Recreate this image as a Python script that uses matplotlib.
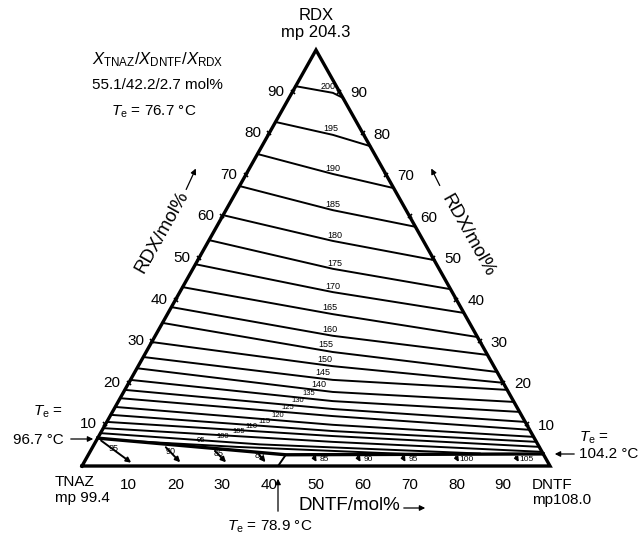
import numpy as np
import matplotlib.pyplot as plt

plt.rcParams['font.family'] = ['Liberation Sans', 'DejaVu Sans']
plt.rcParams['mathtext.fontset'] = 'custom'
plt.rcParams['mathtext.rm'] = 'Liberation Sans'
plt.rcParams['mathtext.it'] = 'Liberation Sans:italic'

W, H = 641, 538

iso_T = [200, 195, 190, 185, 180, 175, 170, 165, 160, 155, 150, 145, 140, 135, 130, 125, 120, 115, 110, 105]
iso_left = [91.3, 82.7, 75.0, 67.3, 60.3, 54.3, 48.5, 43.0, 38.2, 34.4, 29.8, 26.2, 23.5, 20.7, 18.3, 16.3, 14.2, 12.3, 10.6, 9.1]
iso_mid = [89.7, 79.6, 70.2, 61.5, 54.1, 47.4, 41.8, 36.5, 31.3, 27.4, 24.0, 20.7, 17.8, 15.6, 13.7, 12.0, 9.9, 8.4, 7.2, 5.8]
iso_right = [88.5, 76.9, 66.8, 57.5, 49.5, 42.5, 36.8, 31.0, 26.7, 22.6, 20.0, 18.3, 15.4, 13.0, 10.6, 8.7, 7.0, 5.8, 4.6, 3.4]
iso_lab_x = [52.6, 53.2, 53.6, 53.6, 54.1, 54.1, 53.6, 53.0, 53.0, 52.1, 51.9, 51.5, 50.6, 48.4, 46.2, 44.0, 41.8, 39.0, 36.2, 33.4]
x_mid = 53.6

# Isotermas bajas del campo RDX que terminan en los valles (x, RDX)
low_T = [100, 95]
low_x = [[3.95, 38.0, 85.0], [12.0, 33.0, 70.0]]
low_r = [[7.9, 5.2, 3.0], [5.9, 4.6, 2.85]]
low_lab_x = [30.0, 25.5]

# Valles eutécticos (x, RDX)
valley_x = [3.35, 43.55, 98.55]
valley_r = [6.7, 2.7, 2.9]
binary_x = [41.9, 43.55]
binary_r = [0.0, 2.7]

# Campo TNAZ: isotermas desde el valle hasta el lado TNAZ-DNTF
tnaz_T = [95, 90, 85, 80]
tnaz_x0 = [3.6, 17.5, 28.0, 37.5]
tnaz_r0 = [6.5, 5.0, 4.1, 3.2]
tnaz_x1 = [11.0, 21.4, 31.2, 39.6]

# Campo DNTF: isotermas desde el valle hasta el lado TNAZ-DNTF
dntf_T = [85, 90, 95, 100, 105]
dntf_x1 = [50.4, 59.8, 69.4, 80.8, 93.6]

ticks = [10, 20, 30, 40, 50, 60, 70, 80, 90]


def px(x, y):
    return (x / W, 1 - y / H)


fig = plt.figure(figsize=(W / 100, H / 100), dpi=100)
ax = fig.add_axes([82 / W, 72 / H, 468 / W, 416 / H])
ax.set_xlim(0, 100)
ax.set_ylim(0, 100)
ax.axis('off')

# Triángulo
ax.plot([0, 100, 50, 0], [0, 0, 100, 0], color='k', lw=2.4, solid_joinstyle='miter', clip_on=False)

# Isotermas RDX
for i, T in enumerate(iso_T):
    rl, rm, rr = iso_left[i], iso_mid[i], iso_right[i]
    xs = [rl / 2, x_mid, 100 - rr / 2]
    ys = [rl, rm, rr]
    ax.plot(xs, ys, color='k', lw=1.4)
    lx = iso_lab_x[i]
    ly = np.interp(lx, xs, ys)
    fs = 6.5 if T >= 140 else 5.5
    ax.annotate(str(T), (lx, ly), xytext=(0, 1.0), textcoords='offset points',
                ha='center', va='bottom', fontsize=fs)

for i, T in enumerate(low_T):
    ax.plot(low_x[i], low_r[i], color='k', lw=1.4)
    ly = np.interp(low_lab_x[i], low_x[i], low_r[i])
    ax.annotate(str(T), (low_lab_x[i], ly), xytext=(0, 1), textcoords='offset points',
                ha='center', va='bottom', fontsize=5.5)

# Valles
ax.plot(valley_x, valley_r, color='k', lw=2.4)
ax.plot(binary_x, binary_r, color='k', lw=1.4)

# Campo TNAZ
for i, T in enumerate(tnaz_T):
    ax.annotate('', xy=(tnaz_x1[i], 0.4), xytext=(tnaz_x0[i], tnaz_r0[i]),
                arrowprops=dict(arrowstyle='-|>', lw=1.4, color='k', mutation_scale=7))
    ax.text((tnaz_x0[i] + tnaz_x1[i]) / 2 - 0.5, (tnaz_r0[i]) / 2 + 1.0, str(T),
            fontsize=6.5, ha='center', va='center')

# Campo DNTF
for i, T in enumerate(dntf_T):
    ax.annotate('', xy=(dntf_x1[i], 0.4), xytext=(dntf_x1[i] - 1.2, 2.8),
                arrowprops=dict(arrowstyle='-|>', lw=1.2, color='k', mutation_scale=6))
    ax.text(dntf_x1[i] + 1.3, 1.6, str(T), fontsize=6, ha='center', va='center')

# Marcas en los lados
tk = np.array(ticks, dtype=float)
ax.plot(tk / 2, tk, 'x', color='k', ms=3.5, mew=1.2, clip_on=False)
ax.plot(100 - tk / 2, tk, 'x', color='k', ms=3.5, mew=1.2, clip_on=False)

# Etiquetas de los lados
for t in ticks:
    ax.annotate(str(t), (t / 2, t), xytext=(-12, 0), textcoords='offset points',
                ha='center', va='center', fontsize=11)
    ax.annotate(str(t), (100 - t / 2, t), xytext=(14, -1), textcoords='offset points',
                ha='center', va='center', fontsize=11)
    ax.annotate(str(t), (t, 0), xytext=(0, -14), textcoords='offset points',
                ha='center', va='center', fontsize=11)

# Textos
fig.text(*px(316, 16), 'RDX', ha='center', va='center', fontsize=12)
fig.text(*px(316, 33), 'mp 204.3', ha='center', va='center', fontsize=12)
fig.text(*px(55, 482), 'TNAZ', ha='left', va='center', fontsize=11)
fig.text(*px(55, 498), 'mp 99.4', ha='left', va='center', fontsize=11)
fig.text(*px(532, 485), 'DNTF', ha='left', va='center', fontsize=11)
fig.text(*px(532, 500), 'mp108.0', ha='left', va='center', fontsize=11)

fig.text(*px(158, 60), r'$X_{\mathrm{TNAZ}}/X_{\mathrm{DNTF}}/X_{\mathrm{RDX}}$',
         ha='center', va='center', fontsize=12)
fig.text(*px(157, 85), '55.1/42.2/2.7 mol%', ha='center', va='center', fontsize=11)
fig.text(*px(154, 112), r'$T_{\mathrm{e}}$ = 76.7 °C', ha='center', va='center', fontsize=11)

fig.text(*px(162, 232), 'RDX/mol%', ha='center', va='center', fontsize=13.5, rotation=60.6)
fig.text(*px(468, 236), 'RDX/mol%', ha='center', va='center', fontsize=13.5, rotation=-60.6)
fig.text(*px(349, 505), 'DNTF/mol%', ha='center', va='center', fontsize=13.5)

arr = dict(arrowstyle='-|>', lw=0.9, color='k', mutation_scale=8)
fig.add_artist(plt.matplotlib.patches.FancyArrowPatch(px(185, 192), px(197, 166),
               transform=fig.transFigure, **arr))
fig.add_artist(plt.matplotlib.patches.FancyArrowPatch(px(441, 188), px(430, 166),
               transform=fig.transFigure, **arr))
fig.add_artist(plt.matplotlib.patches.FancyArrowPatch(px(401, 508), px(428, 508),
               transform=fig.transFigure, **arr))

fig.text(*px(48, 412), r'$T_{\mathrm{e}}$ =', ha='center', va='center', fontsize=11)
fig.text(*px(38, 440), '96.7 °C', ha='center', va='center', fontsize=11)
fig.add_artist(plt.matplotlib.patches.FancyArrowPatch(px(68, 439), px(96, 439),
               transform=fig.transFigure, **arr))

fig.text(*px(594, 438), r'$T_{\mathrm{e}}$ =', ha='center', va='center', fontsize=11)
fig.text(*px(609, 454), '104.2 °C', ha='center', va='center', fontsize=11)
fig.add_artist(plt.matplotlib.patches.FancyArrowPatch(px(577, 454), px(552, 454),
               transform=fig.transFigure, **arr))

fig.text(*px(270, 527), r'$T_{\mathrm{e}}$ = 78.9 °C', ha='center', va='center', fontsize=11)
fig.add_artist(plt.matplotlib.patches.FancyArrowPatch(px(278, 514), px(278, 476),
               transform=fig.transFigure, **arr))

fig.savefig('out.png', dpi=100, facecolor='white')
